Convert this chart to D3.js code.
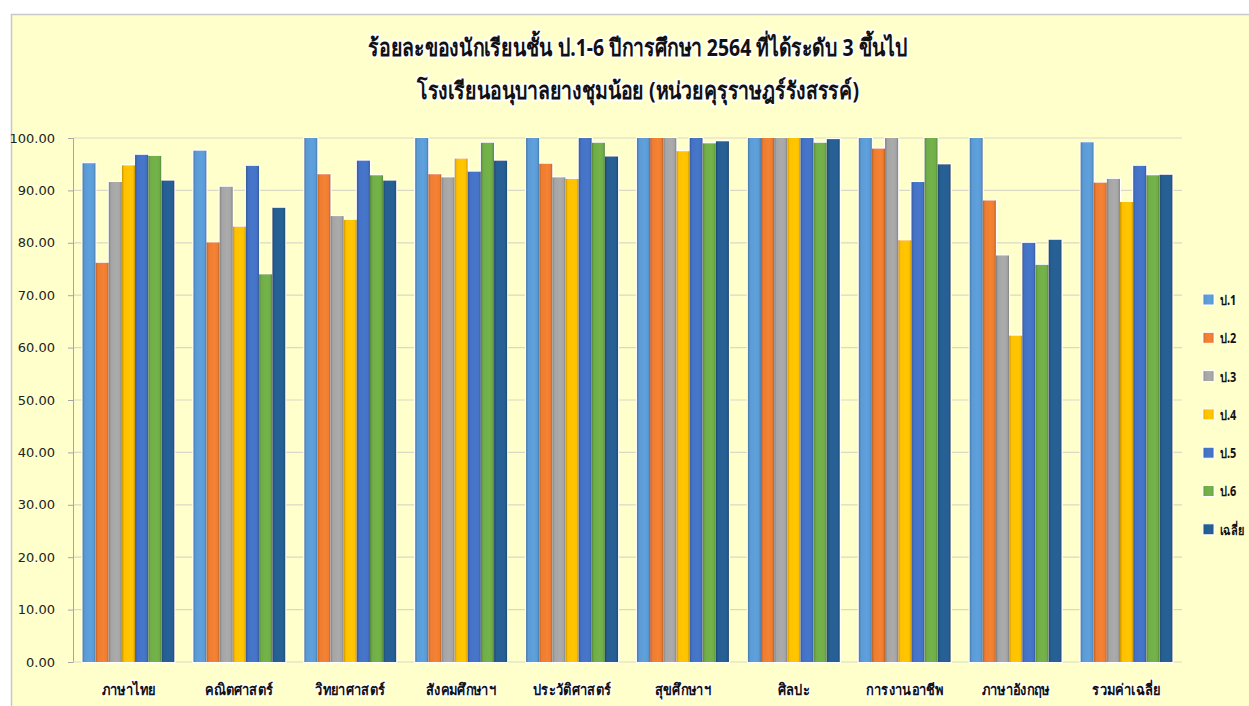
<!DOCTYPE html>
<html><head><meta charset="utf-8">
<script src="https://cdn.jsdelivr.net/npm/d3@7"></script>
<style>
html,body{margin:0;padding:0;background:#fff;}
svg{display:block;}
text{font-family:Tahoma,"Noto Sans","DejaVu Sans",sans-serif;}
</style></head>
<body><svg id="c" width="1249" height="706"></svg>
<script>
const categories = ["ภาษาไทย","คณิตศาสตร์","วิทยาศาสตร์","สังคมศึกษาฯ","ประวัติศาสตร์","สุขศึกษาฯ","ศิลปะ","การงานอาชีพ","ภาษาอังกฤษ","รวมค่าเฉลี่ย"];
const seriesNames = ["ป.1","ป.2","ป.3","ป.4","ป.5","ป.6","เฉลี่ย"];
const p1 = [95.2, 97.6, 100, 100, 100, 100, 100, 100, 100, 99.2];
const p2 = [76.2, 80.1, 93.1, 93.1, 95.1, 100, 100, 98.0, 88.1, 91.5];
const p3 = [91.6, 90.7, 85.1, 92.5, 92.5, 100, 100, 100, 77.6, 92.2];
const p4 = [94.8, 83.1, 84.4, 96.1, 92.2, 97.5, 100, 80.5, 62.3, 87.8];
const p5 = [96.8, 94.7, 95.7, 93.6, 100, 100, 100, 91.6, 80.0, 94.7];
const p6 = [96.6, 74.0, 92.9, 99.1, 99.1, 99.0, 99.1, 100, 75.8, 92.9];
const avg = [91.9, 86.7, 91.9, 95.7, 96.5, 99.4, 99.8, 95.0, 80.6, 93.0];
const yTicks = [0,10,20,30,40,50,60,70,80,90,100];
const titleLines = ["ร้อยละของนักเรียนชั้น ป.1-6 ปีการศึกษา 2564 ที่ได้ระดับ 3 ขึ้นไป","โรงเรียนอนุบาลยางชุมน้อย (หน่วยคุรุราษฎร์รังสรรค์)"];
const colors = ["#5B9BD5","#ED7D31","#A5A5A5","#FFC000","#4472C4","#70AD47","#255E91"];
const seriesData = [p1,p2,p3,p4,p5,p6,avg];

const svg = d3.select("#c");
svg.append("rect").attr("x",11.5).attr("y",14.5).attr("width",1249).attr("height",700)
  .attr("fill","#FFFFCC").attr("stroke","#C8C8C8").attr("stroke-width",1.5);

const defs = svg.append("defs");
colors.forEach((c,i)=>{
  const g = defs.append("linearGradient").attr("id","g"+i).attr("x1","0").attr("x2","1").attr("y1","0").attr("y2","0");
  const dk = d3.color(c).darker(0.7), lt = d3.color(c).brighter(0.1);
  g.append("stop").attr("offset","0%").attr("stop-color",dk);
  g.append("stop").attr("offset","18%").attr("stop-color",c);
  g.append("stop").attr("offset","60%").attr("stop-color",lt);
  g.append("stop").attr("offset","85%").attr("stop-color",c);
  g.append("stop").attr("offset","100%").attr("stop-color",dk);
});
const glow = defs.append("filter").attr("id","glow").attr("x","-20%").attr("y","-20%").attr("width","140%").attr("height","140%");
glow.append("feMorphology").attr("in","SourceAlpha").attr("operator","dilate").attr("radius",1.2).attr("result","d");
glow.append("feFlood").attr("flood-color","#fff");
glow.append("feComposite").attr("in2","d").attr("operator","in").attr("result","w");
const mg = glow.append("feMerge"); mg.append("feMergeNode").attr("in","w"); mg.append("feMergeNode").attr("in","SourceGraphic");

const m = {l:73, r:1182, t:138, b:662};
const x0 = d3.scaleBand().domain(categories).range([m.l,m.r]).paddingInner(0.17).paddingOuter(0.085);
const x1 = d3.scaleBand().domain(seriesNames).range([0,x0.bandwidth()]);
const y = d3.scaleLinear().domain([0,100]).range([m.b,m.t]);

svg.append("g").selectAll("line").data(yTicks.filter(d=>d>0)).join("line")
  .attr("x1",m.l).attr("x2",m.r).attr("y1",d=>y(d)).attr("y2",d=>y(d))
  .attr("stroke","#D9D9C6").attr("stroke-width",1.2);

const ya = svg.append("g").attr("transform",`translate(${m.l},0)`)
  .call(d3.axisLeft(y).tickValues(yTicks).tickFormat(d3.format(".2f")).tickSize(5).tickPadding(13));
ya.select(".domain").attr("stroke","#A6A6A6");
ya.selectAll(".tick line").attr("stroke","#A6A6A6");
ya.selectAll("text").attr("font-size","13px").attr("fill","#222").style("font-family","Tahoma,'DejaVu Sans',sans-serif");
svg.append("line").attr("x1",m.l).attr("x2",m.r).attr("y1",m.b).attr("y2",m.b).attr("stroke","#D9D9C6").attr("stroke-width",1.2);

const groups = svg.append("g").attr("filter","url(#glow)").selectAll("g").data(categories).join("g")
  .attr("transform",d=>`translate(${x0(d)},0)`);
groups.selectAll("rect").data((d,ci)=>seriesNames.map((s,si)=>({s,si,v:seriesData[si][ci]}))).join("rect")
  .attr("x",d=>x1(d.s)).attr("width",x1.bandwidth())
  .attr("y",d=>y(d.v)).attr("height",d=>m.b-y(d.v))
  .attr("fill",d=>`url(#g${d.si})`);

svg.append("g").selectAll("text").data(categories).join("text")
  .attr("transform",d=>`translate(${x0(d)+x0.bandwidth()/2},695) scale(0.86,1)`).attr("text-anchor","middle")
  .attr("font-size","15px").attr("font-weight","bold").attr("fill","#111")
  .attr("stroke","#fff").attr("stroke-width",2.5).attr("paint-order","stroke")
  .text(d=>d);

svg.append("g").selectAll("text").data(titleLines).join("text")
  .attr("transform",(d,i)=>`translate(638,${56+i*43}) scale(0.81,1)`).attr("text-anchor","middle")
  .attr("font-size","24px").attr("font-weight","bold").attr("fill","#111")
  .attr("stroke","#fff").attr("stroke-width",3.5).attr("paint-order","stroke")
  .text(d=>d);

const lg = svg.append("g").selectAll("g").data(seriesNames).join("g")
  .attr("transform",(d,i)=>`translate(1203,${300+i*38.3})`);
lg.append("rect").attr("x",0).attr("y",-6).attr("width",11).attr("height",11)
  .attr("fill",(d,i)=>`url(#g${i})`).attr("stroke","#fff").attr("stroke-width",1);
lg.append("text").attr("transform","translate(17,0) scale(0.78,1)").attr("dy","0.35em")
  .attr("font-size","14px").attr("font-weight","bold").attr("fill","#111").text(d=>d);
</script></body></html>
